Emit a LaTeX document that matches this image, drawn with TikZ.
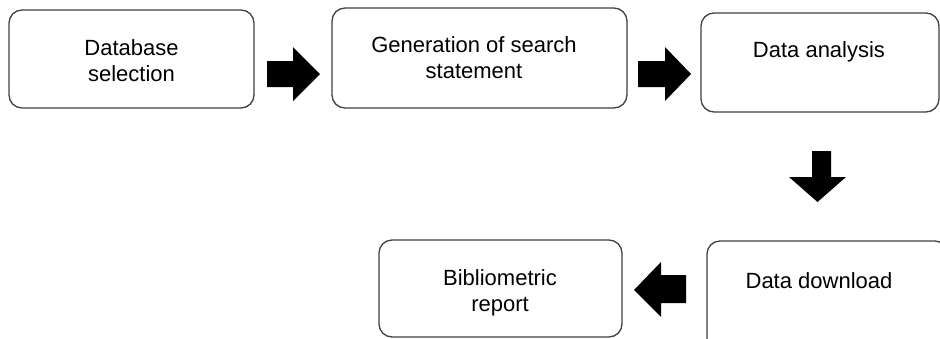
\documentclass[tikz,border=0pt]{standalone}
\usepackage{fontspec}
\setmainfont{Liberation Sans}
\begin{document}
\begin{tikzpicture}[x=1pt,y=-1pt,
  box/.style={draw=black!75, line width=1.3pt, rounded corners=13pt, fill=white},
  lbl/.style={anchor=base, inner sep=0pt, font=\fontsize{22}{26}\selectfont},
  blk/.style={fill=black}]
\useasboundingbox (0,0) rectangle (940,338);
\clip (0,0) rectangle (940,338);
% boxes
\draw[box] (9,10) rectangle (254,108) coordinate (b1);
\draw[box] (332,8) rectangle (627,108) coordinate (b2);
\draw[box] (701,13) rectangle (939,112) coordinate (b3);
\draw[box] (707,241) rectangle (948,352) coordinate (b4);
\draw[box] (379,240) rectangle (622,337) coordinate (b5);
% labels
\node[lbl] (t1a) at (131.5,55) {Database};
\node[lbl] (t1b) at (131.5,81) {selection};
\node[lbl] (t2a) at (474,52) {Generation of search};
\node[lbl] (t2b) at (474,78) {statement};
\node[lbl] (t3) at (819,57) {Data analysis};
\node[lbl] (t4) at (819,288) {Data download};
\node[lbl] (t5a) at (500,285) {Bibliometric};
\node[lbl] (t5b) at (500,311) {report};
% block arrows
\fill[blk] (267,61) -- (293,61) -- (293,47) -- (320,74) -- (293,101) -- (293,87) -- (267,87) -- cycle;
\fill[blk] (638,61) -- (665,61) -- (665,47) -- (691,74) -- (665,101) -- (665,87) -- (638,87) -- cycle;
\fill[blk] (812,151) -- (831,151) -- (831,177) -- (846,177) -- (817.5,202) -- (789,177) -- (812,177) -- cycle;
\fill[blk] (686,275) -- (661,275) -- (661,262) -- (634,290) -- (661,317) -- (661,303) -- (686,303) -- cycle;
\end{tikzpicture}
\end{document}
